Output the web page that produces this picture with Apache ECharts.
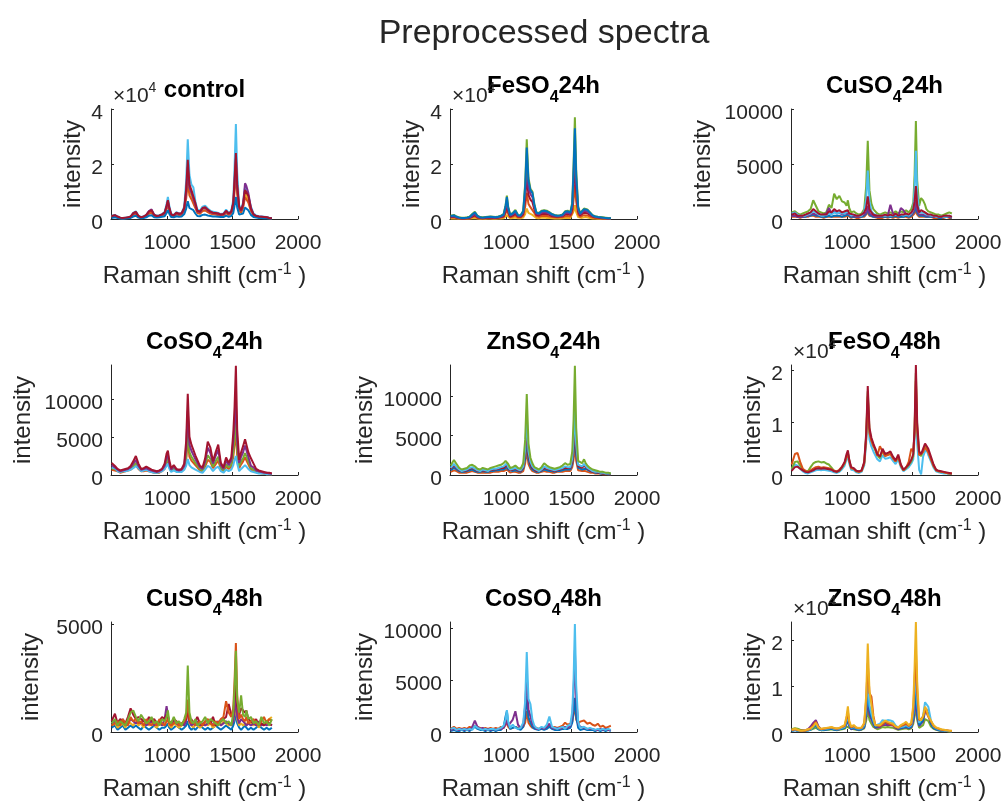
<!DOCTYPE html>
<html><head><meta charset="utf-8">
<script src="https://cdn.jsdelivr.net/npm/echarts@6/dist/echarts.min.js"></script>
<style>html,body{margin:0;padding:0;background:#fff}#c{width:1007px;height:806px}</style>
</head><body><div id="c"></div>
<script>
// Raman shift grid (cm-1)
const ramanShift = [575,600,620,640,660,680,700,720,740,760,
780,800,820,840,860,880,900,920,940,960,
980,995,1005,1015,1030,1050,1070,1090,1110,1130,
1145,1157,1170,1185,1200,1215,1230,1250,1270,1290,
1310,1330,1350,1370,1390,1410,1430,1450,1470,1490,
1505,1515,1525,1535,1550,1565,1580,1595,1605,1620,
1640,1660,1680,1700,1720,1740,1760,1780,1800];

const xTickValues = [1000, 1500, 2000];
const titleMain = ['control','FeSO','CuSO','CoSO','ZnSO','FeSO','CuSO','CoSO','ZnSO'];
const titleSub = ['','4','4','4','4','4','4','4','4'];
const titleSuffix = ['','24h','24h','24h','24h','48h','48h','48h','48h'];
const yMax = [40000,40000,10000,14500,14000,21000,5100,10600,24000];
const yTickValues = [[0,20000,40000],[0,20000,40000],[0,5000,10000],[0,5000,10000],[0,5000,10000],[0,10000,20000],[0,5000],[0,5000,10000],[0,10000,20000]];
const yExponent = [true,true,false,false,false,true,false,false,true];

// ---- control ----
const control_cyan = [1200,1500,900,500,400,500,600,900,2200,2800,
1200,700,900,1500,2800,3300,1600,1200,1400,1800,
2500,5500,8000,5000,1800,1500,2500,2000,2200,4500,
14000,29000,16000,12500,11500,6500,3500,3000,4500,4800,
3800,3000,2600,2500,2200,1800,2000,3400,2200,3000,
7000,19000,34500,17000,5000,3500,6000,11500,10500,8500,
4500,2000,1300,1000,900,800,700,500,400];
const control_yellow = [900,1100,700,400,300,400,500,700,1700,2200,
900,500,700,1200,2200,2600,1200,900,1000,1400,
2000,4200,6000,3800,1400,1200,2000,1600,1800,3500,
9000,16500,10000,8500,8000,4800,2600,2300,3400,3600,
2900,2300,2000,1900,1700,1400,1500,2600,1700,2300,
5000,12000,20000,10500,3800,2700,4800,9500,8500,7000,
3400,1500,1000,800,700,600,500,400,300];
const control_orange = [800,1000,600,300,200,300,400,600,1500,1900,
700,400,600,1000,1900,2300,1000,800,900,1200,
1700,3600,5200,3300,1200,1000,1700,1400,1500,3000,
7500,13500,8500,7200,6800,4000,2200,1900,2900,3100,
2500,2000,1700,1600,1400,1200,1300,2200,1500,2000,
4200,10000,17000,9000,3200,2300,4000,8000,7200,6000,
2900,1300,900,700,600,500,400,300,300];
const control_purple = [1000,1300,800,400,300,400,500,800,2000,2500,
1000,600,800,1400,2900,3500,1500,1000,1200,1600,
2200,4500,6500,4200,1500,1300,2200,1800,2000,3800,
10000,19000,11500,9500,9000,5200,2800,2500,3800,4000,
3200,2500,2200,2100,1900,1500,1700,2900,1900,2600,
5600,13000,22000,11500,4200,3000,5200,13000,12000,9500,
4000,1700,1100,900,800,700,600,400,300];
const control_blue = [400,600,400,200,100,200,300,400,900,1200,
500,300,400,600,1200,1400,600,500,600,800,
1000,2200,3200,2000,700,600,1000,800,900,1800,
3800,6500,4000,3500,3200,2000,1100,1000,1500,1600,
1300,1100,900,900,800,700,700,1200,800,1100,
2200,5000,8000,4200,1600,1200,2000,4200,3800,3200,
1500,700,500,400,400,300,300,200,200];
const control_red = [1100,1400,900,500,400,500,600,900,2100,2600,
1100,600,900,1500,2700,3200,1500,1100,1300,1700,
2300,4800,6800,4300,1600,1400,2300,1900,2100,4000,
11000,21500,12500,10500,10000,5800,3000,2700,4000,4300,
3400,2700,2300,2200,2000,1600,1800,3000,2000,2700,
5800,14500,24000,12500,4500,3200,5400,10500,10000,8500,
3800,1700,1100,900,800,700,600,400,300];

// ---- FeSO4 24h ----
const fe24_yellow = [200,300,200,100,100,100,100,200,300,400,
200,100,100,100,200,200,100,100,200,200,
300,800,1400,700,300,400,500,300,300,500,
1800,3800,2200,1700,1500,900,400,300,500,500,
400,400,300,200,200,200,300,400,400,400,
900,2800,5000,2500,700,300,400,600,700,500,
400,200,200,100,100,100,100,100,50];
const fe24_orange = [500,600,400,200,150,150,200,300,700,1000,
400,300,200,300,300,400,300,300,400,500,
700,2000,3500,1900,600,900,1300,600,600,1200,
4500,9500,5500,4300,3800,2200,1000,800,1100,1200,
1100,900,700,600,500,600,600,1000,1100,900,
2200,7000,12500,6300,1700,800,1000,1400,1700,1300,
900,500,400,300,300,200,200,100,100];
const fe24_red = [700,800,500,300,200,200,300,400,900,1400,
600,400,300,400,500,500,400,400,500,700,
1000,2900,5000,2700,900,1300,1900,900,800,1800,
7300,15500,8800,7000,6200,3500,1500,1300,1800,1900,
1800,1500,1100,900,800,900,1000,1600,1800,1500,
3500,11500,20500,10300,2700,1300,1600,2300,2700,2100,
1500,900,600,500,400,300,300,200,200];
const fe24_purple = [900,1000,600,400,300,300,400,500,1200,1800,
800,500,400,500,600,600,500,500,600,900,
1300,3800,6500,3500,1200,1700,2500,1100,1100,2300,
9500,20000,11500,9000,8000,4500,2000,1700,2300,2500,
2300,1900,1400,1200,1000,1100,1200,2100,2300,1900,
4600,15000,27000,13500,3500,1700,2100,3000,3500,2700,
1900,1100,800,600,500,400,300,300,200];
const fe24_green = [1200,1500,900,600,500,500,600,800,1800,2600,
1200,700,600,700,800,900,800,700,900,1200,
1800,5000,8500,4500,1600,2200,3300,1500,1400,3000,
13000,29000,15000,11000,10000,5500,2500,2200,3000,3200,
3000,2500,1800,1500,1300,1400,1600,2800,3000,2500,
6000,20000,37000,18000,4500,2200,2800,3800,4500,3500,
2500,1400,1000,800,700,600,500,400,300];
const fe24_blue = [1100,1300,800,500,400,400,500,700,1600,2400,
1100,600,500,600,700,800,700,600,800,1100,
1600,4600,8000,4200,1500,2000,3000,1400,1300,2800,
12000,26000,14000,10500,9500,5200,2300,2000,2800,3000,
2800,2300,1700,1400,1200,1300,1500,2600,2800,2300,
5500,18000,33000,16000,4200,2000,2600,3600,4200,3300,
2300,1300,900,700,600,500,400,300,300];

// ---- CuSO4 24h ----
const cu24_orange = [200,200,200,100,200,200,200,300,300,200,
200,200,100,200,200,200,200,200,200,200,
200,200,300,200,100,200,100,100,200,200,
300,600,300,200,200,100,100,100,100,200,
100,200,100,200,100,200,200,200,100,200,
300,500,800,400,200,200,200,200,200,100,
200,100,100,100,100,100,200,100,100];
const cu24_blue = [300,300,200,200,200,200,300,300,400,300,
300,200,200,200,300,200,300,300,300,200,
300,300,400,300,200,200,200,200,200,300,
500,900,400,300,200,200,200,200,200,200,
200,200,200,300,200,200,200,300,200,300,
400,700,1200,600,300,300,300,300,200,200,
200,200,200,100,100,200,200,200,100];
const cu24_green = [600,700,500,400,500,600,700,900,1700,1200,
700,600,500,600,1300,1000,2300,1800,2100,1600,
1500,1200,1700,1000,600,700,500,400,500,900,
3000,7100,2600,1400,900,700,500,400,500,600,
500,600,500,700,500,700,600,800,600,900,
1500,4000,8900,3500,1200,1900,1700,1300,900,700,
600,500,400,400,300,400,500,600,500];
const cu24_purple = [300,300,200,200,200,300,300,400,500,400,
400,300,400,500,1000,500,700,500,600,400,
500,400,500,400,300,300,200,200,300,400,
600,1200,500,400,300,300,200,200,300,300,
300,1300,500,400,300,1000,800,400,300,400,
600,1000,1750,800,400,500,400,400,300,300,
300,200,200,200,200,200,300,200,200];
const cu24_cyan = [500,600,400,300,300,300,400,500,700,600,
400,300,300,400,500,400,600,500,600,500,
500,500,700,500,300,400,300,300,300,700,
1800,4400,1600,700,500,400,300,300,300,300,
300,300,300,400,300,400,300,400,300,500,
900,2800,6200,2400,600,700,600,500,400,300,
300,300,200,200,200,200,200,300,200];
const cu24_red = [400,500,300,300,300,400,500,600,900,700,
500,400,400,400,700,600,900,700,800,600,
700,600,800,500,400,400,300,300,400,600,
1000,2050,900,600,400,400,300,300,300,400,
300,400,300,500,300,400,400,500,400,600,
900,1600,3000,1300,600,800,700,600,500,400,
400,300,300,200,200,300,300,300,200];

// ---- CoSO4 24h ----
const co24_orange = [700,600,500,300,400,500,600,700,1000,1300,
800,500,500,600,500,400,300,300,300,500,
800,1500,1800,1100,500,700,500,400,500,800,
2000,4800,2400,1900,1800,1300,1200,600,500,1100,
2000,1700,900,1400,1900,800,500,1100,800,1100,
2400,4000,5500,2600,900,1400,1800,2300,2200,1400,
700,600,400,300,200,200,100,100,100];
const co24_green = [900,800,600,400,500,600,700,900,1200,1600,
1000,600,700,800,600,500,400,300,400,600,
1000,1800,2200,1300,600,900,600,500,600,1000,
2500,6000,3000,2400,2300,1600,1500,800,600,1400,
2600,2100,1100,1800,2400,1000,600,1400,1000,1400,
3000,5000,7000,3300,1200,1800,2200,2900,2700,1800,
900,700,500,400,300,200,200,200,100];
const co24_cyan = [1000,900,500,400,500,500,600,700,900,1200,
900,500,600,700,500,400,300,300,400,500,
800,1200,1500,900,400,600,400,400,400,700,
1200,2100,1300,1000,900,700,700,400,300,700,
1200,1000,500,900,1100,500,300,700,500,700,
1300,2000,2500,1500,500,800,1000,1300,1200,800,
500,400,300,200,200,200,100,100,100];
const co24_purple = [1300,1000,700,500,600,700,800,1000,1500,2000,
1200,700,800,900,700,600,500,400,500,700,
1200,2300,2700,1600,700,1100,700,600,700,1200,
3600,8500,4000,3200,3000,2100,2000,1000,800,1800,
3600,2900,1500,2500,3300,1300,800,1900,1300,1900,
4500,7000,9500,4500,1600,2400,3000,3900,3700,2400,
1200,1000,600,500,400,300,300,200,200];
const co24_red = [1600,1200,800,600,700,800,900,1200,1800,2500,
1500,800,900,1100,900,700,600,500,600,800,
1500,2800,3200,2000,900,1300,800,700,800,1500,
4500,10700,5000,4000,3800,2600,2500,1200,1000,2200,
4400,3600,1800,3000,4000,1600,1000,2300,1600,2300,
5500,9000,14400,6000,2000,3000,3800,4700,4500,3000,
2200,1500,800,600,500,400,300,300,200];

// ---- ZnSO4 24h ----
const zn24_orange = [400,600,500,300,300,300,300,400,500,400,
300,300,300,300,300,300,400,400,400,500,
500,600,700,500,300,400,400,300,300,500,
1500,3200,1400,800,500,400,300,300,400,500,
400,400,300,300,400,400,400,500,500,500,
1000,2000,3800,1800,600,500,500,600,500,400,
300,300,200,200,200,100,100,100,100];
const zn24_blue = [600,900,700,500,400,400,500,600,700,500,
400,400,500,400,400,500,500,600,600,700,
700,900,1000,700,500,500,600,500,400,800,
2200,5000,2000,1100,700,500,400,400,500,700,
600,500,500,400,500,500,600,700,700,700,
1400,3000,5700,2600,900,800,700,900,800,600,
500,400,300,300,200,200,200,100,100];
const zn24_red = [800,1200,900,600,500,500,600,800,900,700,
500,500,600,500,500,600,700,700,800,900,
900,1100,1300,900,600,700,800,600,500,1000,
2800,6000,2500,1400,900,700,500,500,600,900,
800,700,600,500,600,700,800,900,900,900,
1700,3600,7000,3200,1100,1000,900,1200,1000,800,
600,400,400,300,300,200,200,200,100];
const zn24_cyan = [900,1400,1000,700,500,600,700,900,1000,800,
600,500,700,600,500,700,800,800,900,1000,
1100,1300,1500,1000,700,800,900,700,600,1100,
3300,7500,3000,1700,1100,800,600,500,700,1100,
900,800,700,600,700,800,900,1100,1000,1000,
2100,4500,8800,3900,1300,1200,1100,1400,1200,900,
700,500,400,400,300,300,200,200,200];
const zn24_green = [1200,1900,1400,900,700,800,900,1200,1300,1100,
800,700,900,800,700,900,1000,1100,1200,1300,
1500,1800,2000,1400,900,1000,1200,900,800,1500,
4500,10300,4000,2200,1500,1000,800,700,1000,1500,
1200,1000,900,800,900,1000,1200,1500,1300,1400,
3000,7000,13900,6000,1800,1600,1500,2000,1600,1200,
900,700,600,500,400,400,300,300,200];

// ---- FeSO4 48h ----
const fe48_cyan = [1000,2000,1800,1200,700,400,300,500,700,900,
1000,900,1000,900,800,700,500,400,600,1100,
1800,3000,3500,2200,1000,900,500,400,600,1800,
6000,13000,6800,5400,4500,4300,3000,2600,3800,3100,
3200,3400,2700,2100,3000,1500,700,1100,1500,2200,
3000,7000,15000,6000,1000,100,3500,4500,5000,3800,
2600,1400,700,500,400,300,300,200,200];
const fe48_green = [1200,2500,2600,1800,1000,800,700,1500,2200,2500,
2600,2400,2500,2200,2000,1400,800,600,800,1400,
2200,3600,4300,2800,1400,1200,700,600,800,2300,
7500,16000,8500,6700,5600,5300,3800,3200,4600,3700,
3900,4200,3300,2600,3600,1800,900,1300,1900,2600,
3600,8500,19500,9200,4000,3600,4600,5500,5800,4500,
3200,1800,900,700,600,500,400,300,300];
const fe48_orange = [2000,4000,4200,2500,1200,800,600,900,1200,1500,
1600,1400,1500,1400,1300,1100,800,700,1000,1600,
2300,3500,4200,2700,1300,1200,700,600,800,2200,
7000,15000,8000,6500,5500,5000,3700,5500,4500,3600,
3800,4000,3200,2600,3500,1800,900,1400,2500,5000,
4500,8000,18000,8500,3800,3500,4400,5300,5500,4300,
3000,1700,900,700,600,500,400,300,300];
const fe48_red = [800,1500,1600,1200,900,600,500,700,900,1200,
1300,1200,1300,1200,1100,1000,700,600,900,1500,
2500,4000,4700,3000,1500,1300,800,700,900,2500,
8000,17000,9000,7100,6000,5800,4000,3500,5000,4000,
4200,4500,3500,2800,3900,2000,1000,1500,2000,2900,
4000,9000,21000,10000,4500,4000,5000,6000,6300,5000,
3500,2000,1000,800,700,600,500,400,300];

// ---- CuSO4 48h ----
const cu48_blue = [200,300,100,200,300,100,200,300,200,300,
200,100,300,200,100,200,300,200,100,200,
200,300,400,200,100,200,300,200,100,200,
300,500,200,100,200,100,200,300,200,100,
200,100,200,300,200,100,200,300,200,100,
300,500,900,400,200,100,200,300,200,100,
200,100,200,300,200,100,200,100,200];
const cu48_yellow = [300,400,200,300,400,200,500,400,300,500,
300,400,200,500,300,400,300,200,400,300,
400,500,600,300,200,400,300,200,300,400,
400,900,400,300,200,400,300,200,300,400,
300,400,200,300,400,300,500,400,300,400,
500,800,1400,600,300,400,300,400,300,500,
400,300,500,200,400,300,500,600,700];
const cu48_purple = [400,500,300,400,600,300,400,600,500,400,
500,400,600,300,400,500,300,400,500,300,
600,1200,800,400,300,500,400,300,400,300,
500,1100,500,300,400,300,500,300,400,300,
400,500,300,400,500,300,400,500,400,300,
500,900,1800,700,400,600,500,400,300,400,
300,400,300,500,300,400,300,400,300];
const cu48_red = [500,850,400,600,500,400,700,1100,800,600,
700,600,500,400,700,500,600,400,500,700,
600,800,700,500,400,600,500,400,300,500,
600,1200,500,600,400,500,700,400,300,500,
500,400,700,300,400,500,600,700,1300,800,
900,1600,2200,1200,800,1100,1150,900,1000,600,
500,400,600,300,400,300,500,400,300];
const cu48_orange = [300,400,500,300,600,400,300,700,500,600,
400,500,300,600,400,300,500,300,600,400,
300,500,600,400,300,400,500,300,400,500,
700,1500,600,400,500,300,400,500,300,500,
600,400,300,500,400,600,700,1430,900,700,
1100,2400,4130,1700,600,800,600,500,700,400,
500,600,400,300,500,700,400,600,500];
const cu48_green = [400,600,300,500,400,300,600,900,1000,700,
500,800,600,400,500,700,400,500,300,600,
500,700,1000,500,400,700,400,500,300,600,
900,3080,900,500,400,600,300,400,500,700,
400,600,500,400,300,500,600,400,500,300,
900,2000,3770,1500,900,1700,800,700,1000,600,
700,400,500,300,700,400,500,300,600];

// ---- CoSO4 48h ----
const co48_orange = [300,500,300,400,300,400,300,500,400,600,
500,400,300,400,300,400,300,400,300,500,
400,700,900,500,300,400,500,400,300,500,
900,2000,900,600,400,300,400,300,400,300,
500,600,400,500,400,500,600,900,700,800,
1000,1800,2500,1200,800,1000,900,1100,1000,800,
900,700,600,800,500,600,400,500,600];
const co48_blue = [100,200,100,100,200,100,200,100,300,500,
300,200,200,100,200,100,200,100,200,200,
500,1500,2000,900,300,400,500,300,200,500,
1500,3500,1400,900,500,300,200,200,300,200,
300,500,300,200,200,200,300,300,300,400,
900,2000,3300,1500,400,200,200,300,200,200,
200,200,100,200,100,200,100,200,100];
const co48_purple = [200,300,200,200,300,200,300,200,500,1100,
500,300,400,200,300,200,300,200,300,300,
400,800,1200,600,500,1200,2000,700,400,700,
2500,5600,2200,1500,800,500,300,300,400,300,
500,800,400,300,400,300,400,500,400,600,
1500,3800,7900,3300,800,500,400,400,300,300,
300,300,200,200,300,200,300,200,200];
const co48_cyan = [300,400,200,300,200,300,200,300,200,600,
400,300,200,300,200,300,300,200,300,400,
600,1200,2100,1000,400,700,400,300,400,900,
3000,7700,3200,2700,1200,600,400,300,500,400,
700,1500,500,400,300,400,500,300,600,700,
2000,5000,10400,4500,1000,400,300,500,400,300,
400,300,200,300,200,300,200,300,200];

// ---- ZnSO4 48h ----
const zn48_green = [600,800,700,500,400,300,400,500,700,900,
600,400,400,500,500,600,500,400,500,600,
700,1200,1600,900,500,600,500,400,500,800,
2500,5000,2600,1800,1100,700,600,800,1100,1000,
1100,1000,900,700,500,600,700,800,600,800,
1800,3500,5500,2600,900,900,1500,2800,3000,2400,
1200,700,500,300,200,200,200,100,100];
const zn48_purple = [300,500,300,200,300,400,600,1200,2000,2600,
1200,600,500,600,700,800,600,500,600,800,
900,1800,2500,1300,600,800,600,500,600,1000,
3500,7000,3800,2700,1700,900,800,1100,1600,1500,
1600,1500,1400,900,600,800,900,1000,800,1000,
2400,4500,7000,3500,1300,1300,2300,4500,5000,4000,
1800,900,600,400,300,200,200,200,100];
const zn48_blue = [200,400,200,200,200,200,300,500,1000,1500,
600,400,500,500,600,700,500,500,600,700,
900,2000,3000,1500,700,900,600,500,600,1200,
4500,9000,4800,3300,2000,1100,900,1400,2000,1900,
2000,1900,1800,1100,700,900,1000,1200,900,1200,
3000,6000,9400,4500,1500,1500,2600,4800,5000,4000,
1800,900,600,400,300,200,200,200,100];
const zn48_cyan = [300,500,300,200,200,300,400,600,1300,1900,
800,500,600,700,800,900,700,600,700,900,
1100,2500,3800,1800,900,1100,800,700,800,1500,
5500,11500,5800,4000,2500,1400,1200,1800,2600,2400,
2600,2500,2300,1400,900,1100,1200,1500,1100,1500,
4000,8500,14600,6500,2000,2000,3500,6500,6900,5500,
2500,1200,800,600,400,300,300,200,200];
const zn48_orange = [400,600,400,300,300,300,500,700,1500,2200,
900,600,700,800,900,1000,800,700,800,1100,
1300,3000,4500,2100,1000,1300,900,800,900,1800,
7000,15000,8500,7700,3500,1500,1100,1300,1700,2200,
1900,1700,1500,1100,900,1300,1500,1800,1300,1700,
5000,11000,18000,8500,2600,2200,3200,5000,4800,3300,
2300,1300,900,700,500,400,400,300,200];
const zn48_yellow = [500,700,500,300,300,400,600,800,1200,2000,
1000,700,800,900,1000,1100,900,800,900,1200,
1500,3500,5600,2500,1200,1500,1000,900,1000,2000,
8000,19300,9000,6000,3000,1500,1200,1500,2000,2500,
2200,2000,1800,1200,1000,1500,1800,2200,1500,2000,
6000,14000,24000,11000,3000,2500,3500,5500,5000,3500,
2500,1500,1000,800,600,500,400,300,300];

const lineColors = {blue:'#0072BD', orange:'#D95319', yellow:'#EDB120', purple:'#7E2F8E', green:'#77AC30', cyan:'#4DBEEE', red:'#A2142F'};

const panelSeries = [
  [['cyan',control_cyan],['yellow',control_yellow],['orange',control_orange],['purple',control_purple],['blue',control_blue],['red',control_red]],
  [['yellow',fe24_yellow],['orange',fe24_orange],['red',fe24_red],['purple',fe24_purple],['green',fe24_green],['blue',fe24_blue]],
  [['orange',cu24_orange],['blue',cu24_blue],['green',cu24_green],['purple',cu24_purple],['cyan',cu24_cyan],['red',cu24_red]],
  [['orange',co24_orange],['green',co24_green],['cyan',co24_cyan],['purple',co24_purple],['red',co24_red]],
  [['orange',zn24_orange],['blue',zn24_blue],['red',zn24_red],['cyan',zn24_cyan],['green',zn24_green]],
  [['cyan',fe48_cyan],['green',fe48_green],['orange',fe48_orange],['red',fe48_red]],
  [['blue',cu48_blue],['yellow',cu48_yellow],['purple',cu48_purple],['red',cu48_red],['orange',cu48_orange],['green',cu48_green]],
  [['orange',co48_orange],['blue',co48_blue],['purple',co48_purple],['cyan',co48_cyan]],
  [['green',zn48_green],['purple',zn48_purple],['blue',zn48_blue],['cyan',zn48_cyan],['orange',zn48_orange],['yellow',zn48_yellow]]
];

// layout
const FONT = "'Liberation Sans', Arial, Helvetica, sans-serif";
const AX = '#262626';
const colLeft = [111, 450, 791];
const rowTop = [109, 365, 622];
const plotW = 187, plotH = 110;
const yNameGap = [26, 26, 76, 76, 73, 26, 68, 73, 26];

const grids = [], xAxes = [], yAxes = [], series = [], graphics = [];
graphics.push({type:'text', x:544, y:34, style:{text:'Preprocessed spectra', fontSize:34, fontFamily:FONT, fill:AX, align:'center', verticalAlign:'middle'}});

for (let i = 0; i < 9; i++) {
  const L = colLeft[i % 3], T = rowTop[Math.floor(i / 3)];
  grids.push({left:L, top:T, width:plotW, height:plotH, containLabel:false, outerBoundsMode:'none'});
  xAxes.push({
    type:'value', gridIndex:i, min:570, max:2000,
    axisLine:{show:true, onZero:false, lineStyle:{color:AX, width:1}},
    axisTick:{show:true, inside:true, length:3, customValues:xTickValues, lineStyle:{color:AX}},
    axisLabel:{customValues:xTickValues, fontSize:21, color:AX, fontFamily:FONT, margin:14, formatter:v=>String(v)},
    splitLine:{show:false},
    name:'Raman shift (cm{sup|-1} )', nameLocation:'middle', nameGap:43,
    nameTextStyle:{fontSize:24, color:AX, fontFamily:FONT,
      rich:{sup:{fontSize:16, color:AX, fontFamily:FONT, verticalAlign:'middle', padding:[0,0,12,0]}}}
  });
  const expo = yExponent[i];
  yAxes.push({
    type:'value', gridIndex:i, min:0, max:yMax[i],
    axisLine:{show:true, onZero:false, lineStyle:{color:AX, width:1}},
    axisTick:{show:true, inside:true, length:3, customValues:yTickValues[i], lineStyle:{color:AX}},
    axisLabel:{customValues:yTickValues[i], fontSize:21, color:AX, fontFamily:FONT, margin:8,
      formatter: v => '{t|' + (expo ? String(v / 10000) : String(v)) + '}',
      rich:{t:{fontSize:21, color:AX, fontFamily:FONT, verticalAlign:'middle', padding:[8,0,0,0]}}},
    splitLine:{show:false},
    name:'intensity', nameLocation:'middle', nameRotate:90, nameGap:yNameGap[i],
    nameTextStyle:{fontSize:24, color:AX, fontFamily:FONT}
  });
  panelSeries[i].forEach(([cname, arr]) => {
    const col = lineColors[cname];
    series.push({type:'line', xAxisIndex:i, yAxisIndex:i, data: ramanShift.map((x, k) => [x, arr[k]]),
      showSymbol:false, symbol:'none', clip:true, silent:true, animation:false,
      lineStyle:{width:2, color:col}, itemStyle:{color:col}});
  });
  // subplot title
  const hasSub = titleSub[i] !== '';
  const txt = hasSub ? `{m|${titleMain[i]}}{s|${titleSub[i]}}{m|${titleSuffix[i]}}` : `{m|${titleMain[i]}}`;
  graphics.push({type:'text', x: L + plotW / 2, y: T - (hasSub ? 23 : 19), z:10,
    style:{text:txt, align:'center', verticalAlign:'middle',
      rich:{m:{fontSize:24, fontWeight:'bold', fontFamily:FONT, fill:'#000', verticalAlign:'middle'},
            s:{fontSize:16, fontWeight:'bold', fontFamily:FONT, fill:'#000', verticalAlign:'middle', padding:[24,0,0,0]}}}});
  if (expo) {
    graphics.push({type:'text', x: L + 2, y: T - 13, z:11,
      style:{text:'{e|×10}{p|4}', align:'left', verticalAlign:'middle',
        rich:{e:{fontSize:21, fontFamily:FONT, fill:AX, verticalAlign:'middle'},
              p:{fontSize:14, fontFamily:FONT, fill:AX, verticalAlign:'middle', padding:[0,0,15,0]}}}});
  }
}

const chart = echarts.init(document.getElementById('c'), null, {renderer:'canvas'});
chart.setOption({animation:false, backgroundColor:'#fff', grid:grids, xAxis:xAxes, yAxis:yAxes, series:series, graphic:graphics});
</script>
</body></html>
